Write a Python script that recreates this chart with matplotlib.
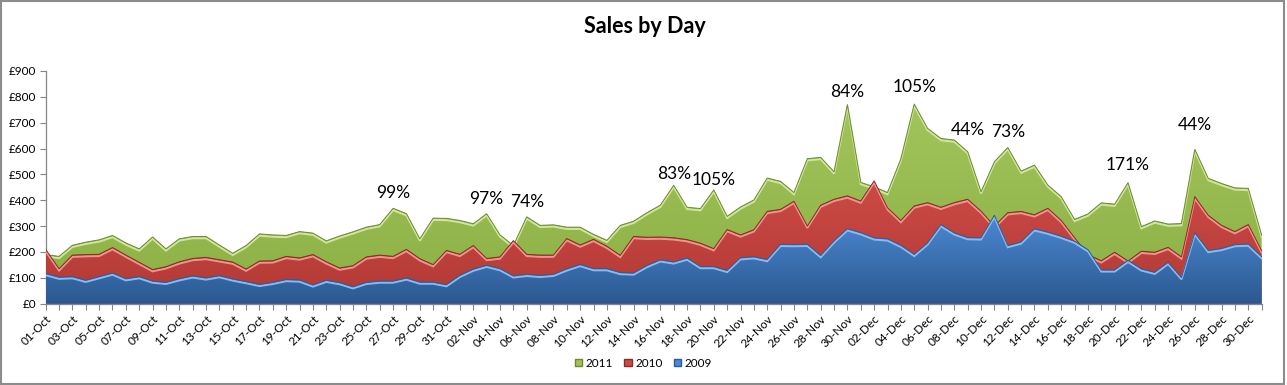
import numpy as np
import pandas as pd
import matplotlib
matplotlib.use("Agg")
import matplotlib.pyplot as plt
from matplotlib.patches import Polygon, Patch, Rectangle
from matplotlib.colors import LinearSegmentedColormap
from matplotlib.ticker import FuncFormatter
from matplotlib.transforms import ScaledTranslation

plt.rcParams["font.family"] = ["Lato", "DejaVu Sans"]

# ---- data ----------------------------------------------------------
days = pd.date_range("2011-10-01", "2011-12-31", freq="D").strftime("%d-%b").tolist()

sales_2011 = [190, 183, 226, 238, 247, 264, 235, 212, 258, 212, 251, 260, 260, 227,
              195, 225, 270, 266, 264, 279, 273, 243, 262, 278, 296, 306, 369, 348,
              251, 331, 330, 322, 309, 348, 266, 225, 336, 303, 305, 296, 296, 268,
              245, 303, 319, 352, 381, 458, 373, 368, 440, 338, 374, 401, 486, 473,
              430, 561, 566, 510, 770, 469, 452, 430, 560, 772, 678, 639, 633, 588,
              433, 549, 604, 513, 536, 459, 414, 326, 347, 390, 385, 468, 298, 320,
              308, 310, 597, 485, 465, 448, 446, 265]
sales_2010 = [210, 135, 188, 190, 191, 217, 188, 160, 132, 143, 162, 175, 179, 170,
              161, 134, 165, 166, 183, 177, 190, 162, 138, 147, 181, 188, 183, 210,
              174, 151, 206, 191, 225, 175, 181, 244, 191, 188, 188, 252, 227, 249,
              222, 187, 260, 257, 258, 255, 248, 234, 213, 287, 266, 286, 357, 365,
              396, 300, 381, 404, 417, 397, 475, 371, 322, 378, 391, 373, 391, 404,
              358, 300, 352, 357, 344, 369, 322, 255, 190, 166, 199, 165, 203, 199,
              218, 181, 414, 342, 303, 279, 306, 205]
sales_2009 = [117, 103, 105, 91, 105, 119, 97, 105, 88, 83, 97, 108, 100, 109,
              96, 86, 75, 83, 94, 92, 73, 91, 82, 66, 83, 88, 88, 100,
              84, 84, 74, 110, 134, 149, 136, 108, 114, 110, 114, 135, 152, 136,
              136, 121, 119, 148, 170, 162, 177, 144, 144, 129, 178, 182, 171, 230,
              229, 230, 186, 243, 290, 275, 255, 251, 226, 191, 235, 306, 274, 256,
              255, 342, 225, 239, 290, 277, 261, 242, 209, 131, 131, 168, 135, 122,
              160, 101, 274, 206, 214, 229, 231, 182]

pct_days = ["27-Oct", "03-Nov", "06-Nov", "17-Nov", "20-Nov", "30-Nov",
            "05-Dec", "09-Dec", "12-Dec", "21-Dec", "26-Dec"]
pct_text = ["99%", "97%", "74%", "83%", "105%", "84%",
            "105%", "44%", "73%", "171%", "44%"]

# ---- figure ---------------------------------------------------------
fig = plt.figure(figsize=(12.87, 3.85), dpi=100)
ax = fig.add_axes([0.0355, 0.2112, 0.9448, 0.6044])

x = np.arange(len(days))

styles = [
    # label, values, top colour, bottom colour, dark edge, highlight
    ("2011", sales_2011, "#a2c45c", "#8cb044", "#6b8a2a", "#cfe69c"),
    ("2010", sales_2010, "#cc4a46", "#b23935", "#8c2a27", "#f19490"),
    ("2009", sales_2009, "#4c89d2", "#2b5890", "#2d5d99", "#86bcf2"),
]

grad = np.linspace(0, 1, 256).reshape(-1, 1)
hl_shift = ScaledTranslation(0, -1.3 / 72, fig.dpi_scale_trans)
for z, (lab, vals, c_top, c_bot, c_edge, c_hl) in enumerate(styles):
    zz = 2 + z * 3
    vals = np.asarray(vals, dtype=float)
    verts = np.vstack([[x[0], 0], np.column_stack([x, vals]), [x[-1], 0]])
    poly = Polygon(verts, closed=True, facecolor="none", edgecolor="none", zorder=zz)
    ax.add_patch(poly)
    cmap = LinearSegmentedColormap.from_list("g" + lab, [c_bot, c_top])
    im = ax.imshow(grad, extent=[x[0], x[-1], 0, vals.max()], origin="lower",
                   aspect="auto", cmap=cmap, interpolation="bilinear", zorder=zz)
    im.set_clip_path(poly)
    ax.plot(x, vals, color=c_hl, lw=1.4, zorder=zz + 0.5,
            transform=ax.transData + hl_shift, solid_joinstyle="miter")
    ax.plot(x, vals, color=c_edge, lw=0.7, zorder=zz + 0.6)

# percentage labels above the 2011 series
lift = [15, 15, 15, 11, 10, 13, 17, 22, 16, 18, 24]
for d, t, up in zip(pct_days, pct_text, lift):
    i = days.index(d)
    ax.annotate(t, xy=(i, sales_2011[i]), xytext=(0, up), textcoords="offset pixels",
                ha="center", va="center", fontsize=12.5, color="black", zorder=20)

# ---- axes -----------------------------------------------------------
ax.set_xlim(x[0], x[-1])
ax.set_ylim(0, 900)
ax.set_yticks(np.arange(0, 901, 100))
ax.yaxis.set_major_formatter(FuncFormatter(lambda v, p: f"£{v:,.0f}"))
ax.set_xticks(x)
ax.set_xticklabels([d if i % 2 == 0 else "" for i, d in enumerate(days)],
                   rotation=45, ha="right", rotation_mode="anchor", fontsize=8.5)
ax.tick_params(axis="y", labelsize=8.5, direction="out", length=4, color="#868686", pad=3)
ax.tick_params(axis="x", direction="out", length=4, color="#868686", pad=3)
for s in ["top", "right"]:
    ax.spines[s].set_visible(False)
for s in ["left", "bottom"]:
    ax.spines[s].set_color("#868686")
    ax.spines[s].set_linewidth(0.9)

fig.text(0.501, 0.93, "Sales by Day", ha="center", va="center",
         fontsize=15.5, fontweight="bold")

handles = [Patch(facecolor=s[2], edgecolor=s[4], label=s[0]) for s in styles]
fig.legend(handles=handles, loc="center", bbox_to_anchor=(0.5, 0.057), ncol=3,
           frameon=False, fontsize=8.5, handlelength=0.6, handleheight=0.6,
           columnspacing=1.0, handletextpad=0.3)

# chart-area border
fig.patches.append(Rectangle((0.001, 0.002), 0.997, 0.995, transform=fig.transFigure,
                             facecolor="none", edgecolor="#8c8c8c", lw=1.5))

fig.savefig("out.png", dpi=100, facecolor="white")
